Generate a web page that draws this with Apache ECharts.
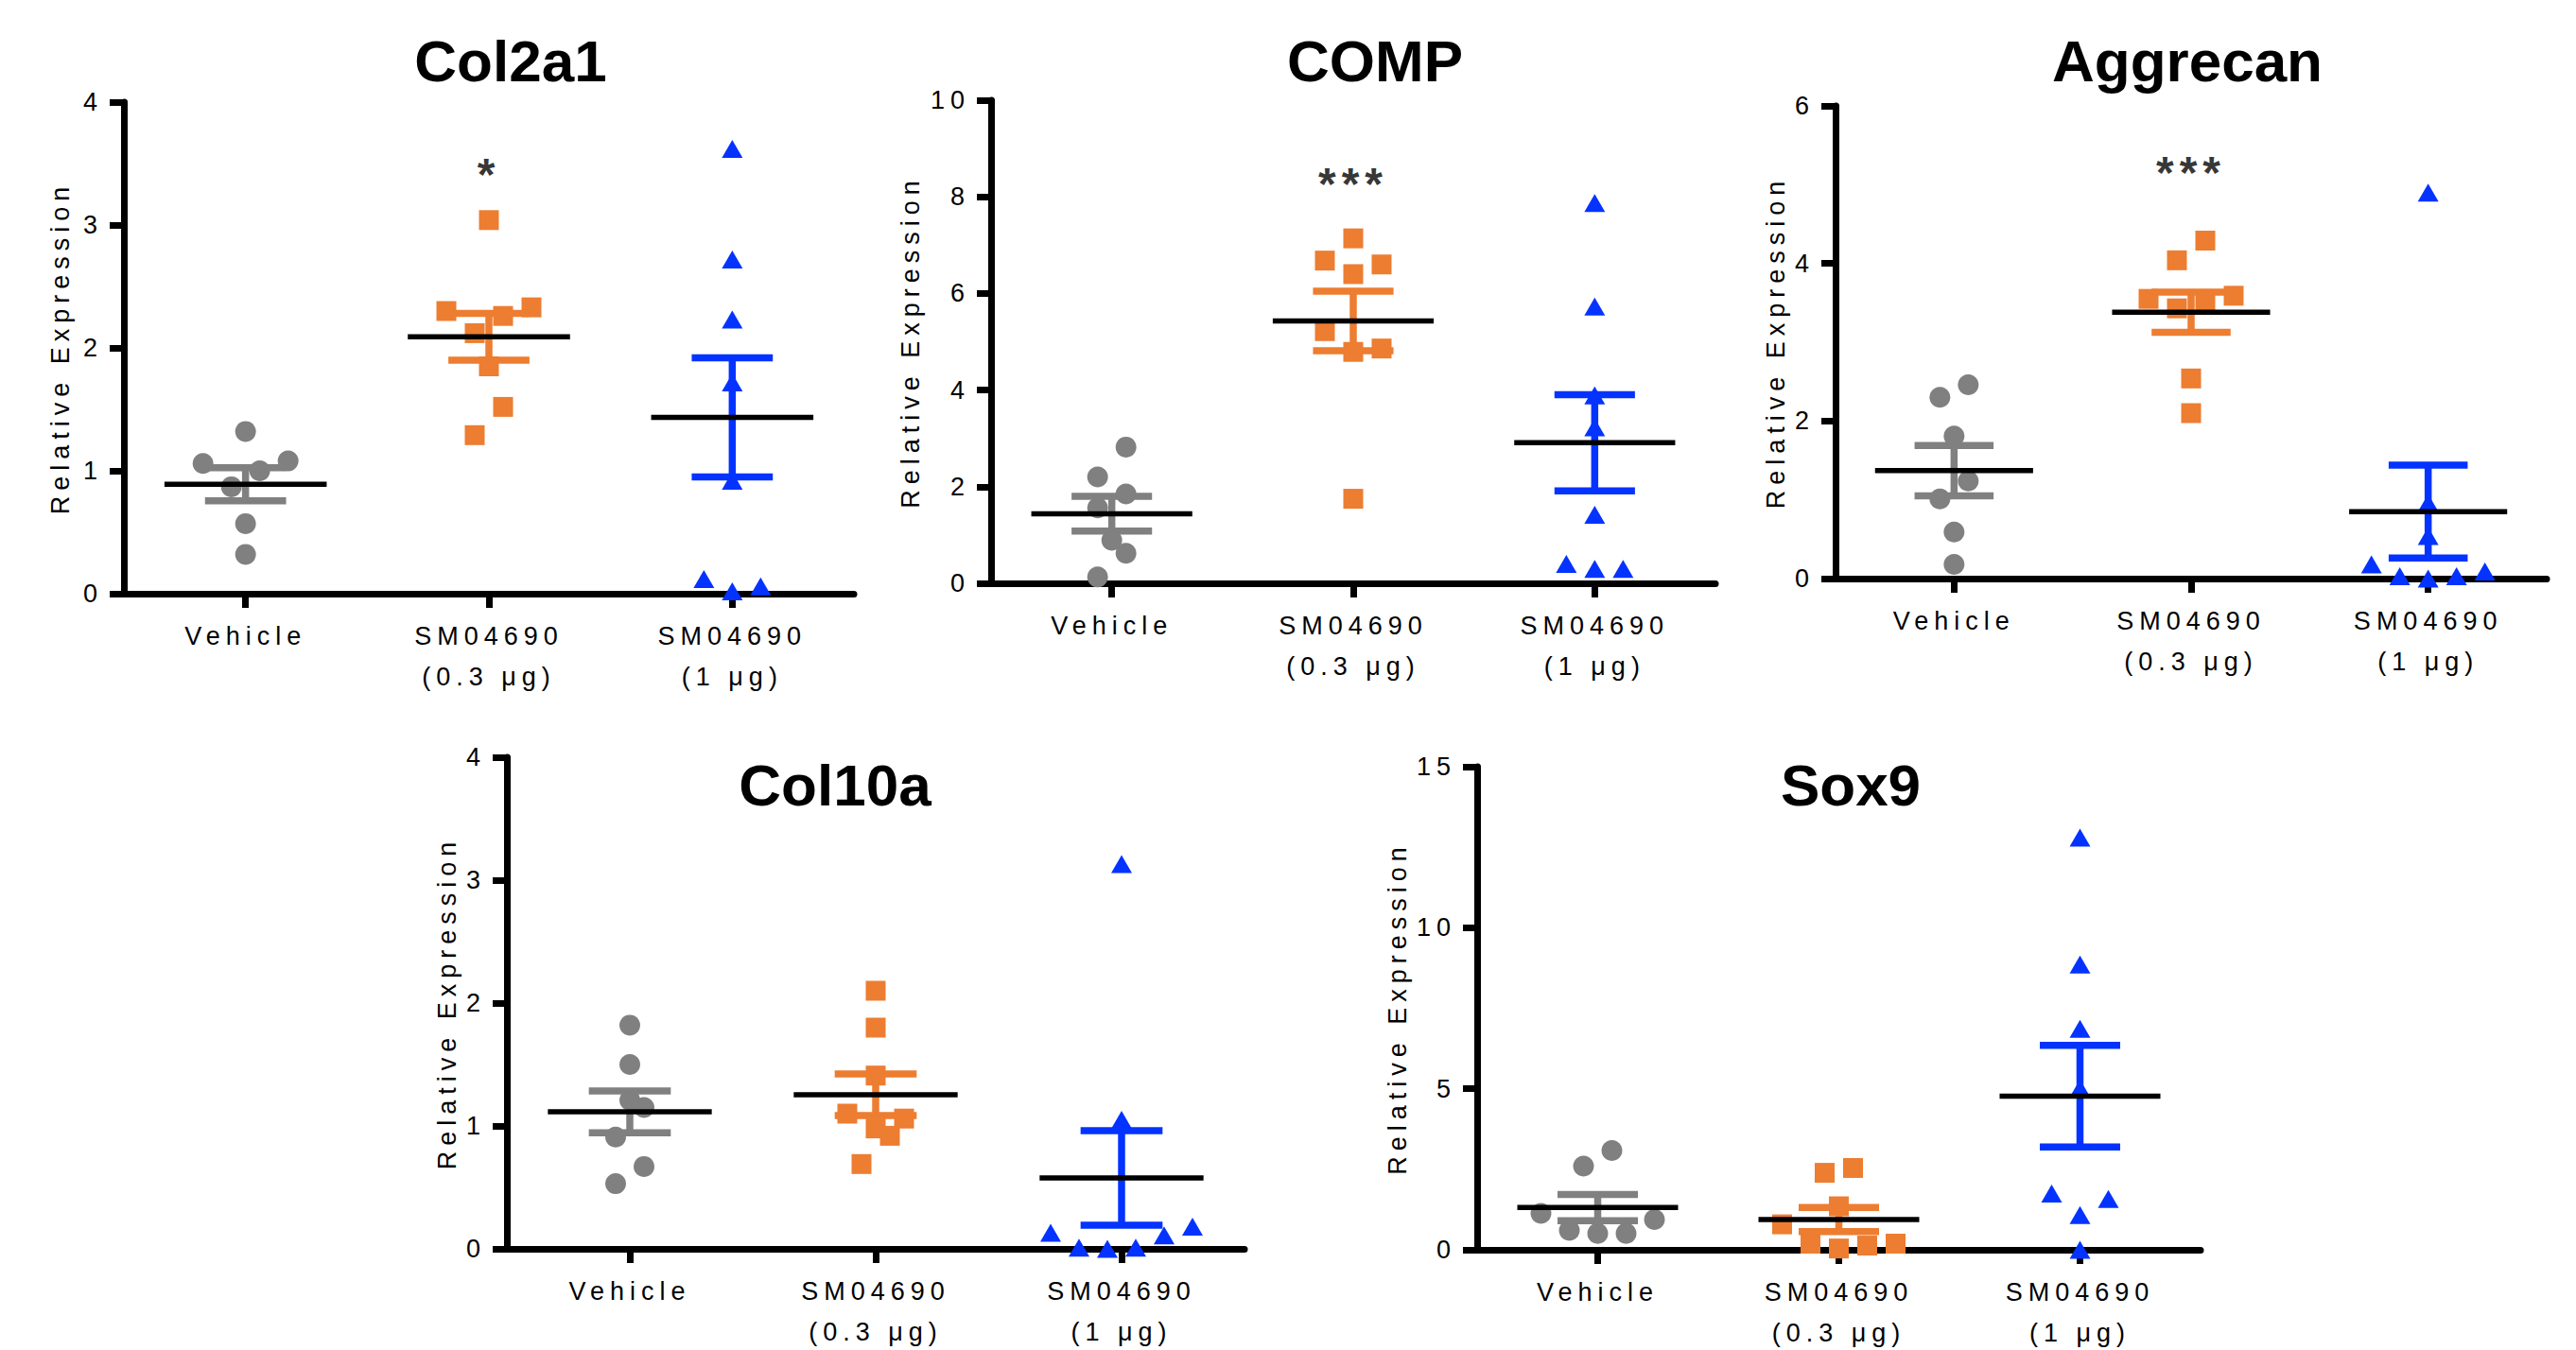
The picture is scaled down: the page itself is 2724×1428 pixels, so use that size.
<!DOCTYPE html>
<html>
<head>
<meta charset="utf-8">
<title>SM04690 relative expression</title>
<script src="https://cdn.jsdelivr.net/npm/echarts@6/dist/echarts.min.js"></script>
<style>
  html, body { margin: 0; padding: 0; background: #fff; }
  #main { width: 2724px; height: 1428px; }
  /* spaced-out axis text like the original; bold titles stay tight */
  #main text { letter-spacing: 6px; }
  #main text[style*="bold"] { letter-spacing: 0; }
</style>
</head>
<body>
<div id="main"></div>
<script>
var groups = ['Vehicle', 'SM04690\n(0.3 μg)', 'SM04690\n(1 μg)'];
var genes = ['Col2a1', 'COMP', 'Aggrecan', 'Col10a', 'Sox9'];
var yMax = [4, 10, 6, 4, 15];
var yStep = [1, 2, 2, 1, 5];

// single animals
var col2a1Veh = [1.32, 1.08, 1.06, 1.00, 0.87, 0.57, 0.32];
var col2a1Low = [3.04, 2.33, 2.30, 2.26, 2.12, 1.85, 1.52, 1.29];
var col2a1High = [3.62, 2.72, 2.23, 1.72, 0.92, 0.12, 0.06, 0.02];

var compVeh = [2.82, 2.20, 1.85, 1.56, 0.89, 0.62, 0.13];
var compLow = [7.14, 6.68, 6.60, 6.40, 5.22, 4.86, 4.79, 1.75];
var compHigh = [7.87, 5.73, 3.89, 3.23, 1.42, 0.40, 0.30, 0.30];

var aggrecanVeh = [2.46, 2.30, 1.81, 1.24, 1.01, 0.59, 0.18];
var aggrecanLow = [4.29, 4.04, 3.59, 3.55, 3.51, 3.43, 2.54, 2.10];
var aggrecanHigh = [4.90, 0.96, 0.54, 0.18, 0.09, 0.03, 0.03, 0.00];

var col10aVeh = [1.82, 1.50, 1.21, 1.15, 0.91, 0.67, 0.53];
var col10aLow = [2.10, 1.80, 1.41, 1.10, 1.06, 0.98, 0.92, 0.69];
var col10aHigh = [3.13, 1.05, 0.18, 0.13, 0.11, 0.01, 0.01, 0.00];

var sox9Veh = [3.08, 2.60, 1.13, 0.94, 0.60, 0.51, 0.51];
var sox9Low = [2.54, 2.39, 1.35, 0.79, 0.19, 0.19, 0.13, 0.04];
var sox9High = [12.8, 8.86, 6.86, 5.01, 1.75, 1.58, 1.08, 0.00];

// mean and SEM bars as drawn
var col2a1Mean = [0.89, 2.09, 1.435];
var col2a1Sem = [0.135, 0.19, 0.485];
var compMean = [1.44, 5.43, 2.91];
var compSem = [0.36, 0.615, 0.995];
var aggrecanMean = [1.37, 3.38, 0.85];
var aggrecanSem = [0.32, 0.255, 0.59];
var col10aMean = [1.115, 1.254, 0.577];
var col10aSem = [0.17, 0.17, 0.385];
var sox9Mean = [1.31, 0.94, 4.77];
var sox9Sem = [0.405, 0.375, 1.58];

// significance marks over the 0.3 μg group
var stars = ['*', '***', '***', '', ''];
var starY = [3.45, 8.37, 5.22, null, null];

var points = [
  [col2a1Veh, col2a1Low, col2a1High],
  [compVeh, compLow, compHigh],
  [aggrecanVeh, aggrecanLow, aggrecanHigh],
  [col10aVeh, col10aLow, col10aHigh],
  [sox9Veh, sox9Low, sox9High]
];
var means = [col2a1Mean, compMean, aggrecanMean, col10aMean, sox9Mean];
var sems = [col2a1Sem, compSem, aggrecanSem, col10aSem, sox9Sem];

// panel boxes in px
var layout = [
  {left: 131, top: 108, width: 772, height: 520, nameGap: 54, tx: 540, ty: 64},
  {left: 1048, top: 106, width: 766, height: 511, nameGap: 72, tx: 1454, ty: 64},
  {left: 1941, top: 112, width: 752, height: 500, nameGap: 50, tx: 2313, ty: 64},
  {left: 536, top: 801, width: 780, height: 520, nameGap: 50, tx: 883, ty: 830},
  {left: 1562, top: 811, width: 765, height: 511, nameGap: 71, tx: 1957, ty: 830}
];

var colors = ['#808080', '#ED7D31', '#0433FF'];
var shapes = ['circle', 'rect', 'triangle'];
var sizes = [22, 21, [22, 19]];
var FONT = '"Liberation Sans", Arial, Helvetica, sans-serif';
var AXIS_W = 7;
var ROW_PX = 32;   // points closer than this share a row
var SLOT_PX = 30;  // horizontal step inside a row

// prism-like scatter: rows centred on the group, lowest point in the middle
function spread(vals, pxPerUnit, catPx) {
  var idx = vals.map(function (v, i) { return i; });
  idx.sort(function (a, b) { return vals[a] - vals[b]; });
  var off = [];
  var i = 0;
  while (i < idx.length) {
    var start = vals[idx[i]] * pxPerUnit;
    var row = [];
    while (i < idx.length && vals[idx[i]] * pxPerUnit - start < ROW_PX) {
      row.push(idx[i]);
      i++;
    }
    var n = row.length;
    row.forEach(function (k, j) {
      var slot;
      if (n % 2) {
        slot = j === 0 ? 0 : (j % 2 ? 1 : -1) * Math.ceil(j / 2);
      } else {
        slot = (j % 2 ? 1 : -1) * (Math.floor(j / 2) + 0.5);
      }
      off[k] = slot * SLOT_PX / catPx;
    });
  }
  return off;
}

function meanSem(params, api) {
  var x = api.value(0), m = api.value(1), e = api.value(2);
  var c = api.coord([x, m]);
  var hi = api.coord([x, m + e]);
  var lo = api.coord([x, m - e]);
  var w = api.size([1, 0])[0];
  var col = colors[x];
  var bar = {stroke: col, lineWidth: 7.5};
  return {
    type: 'group',
    children: [
      {type: 'line', shape: {x1: c[0], y1: hi[1], x2: c[0], y2: lo[1]}, style: bar},
      {type: 'line', shape: {x1: c[0] - w / 6, y1: hi[1], x2: c[0] + w / 6, y2: hi[1]}, style: bar},
      {type: 'line', shape: {x1: c[0] - w / 6, y1: lo[1], x2: c[0] + w / 6, y2: lo[1]}, style: bar},
      {type: 'line', shape: {x1: c[0] - w / 3, y1: c[1], x2: c[0] + w / 3, y2: c[1]}, style: {stroke: '#000', lineWidth: 5.5}}
    ]
  };
}

var option = {
  animation: false,
  backgroundColor: '#fff',
  grid: [],
  xAxis: [],
  yAxis: [],
  series: [],
  graphic: []
};

genes.forEach(function (gene, p) {
  var L = layout[p];
  option.grid.push({
    left: L.left, top: L.top, width: L.width, height: L.height,
    outerBoundsMode: 'none'
  });
  option.xAxis.push({
    type: 'category',
    gridIndex: p,
    data: groups,
    axisLine: {show: true, onZero: false, lineStyle: {color: '#000', width: AXIS_W}},
    axisTick: {show: true, alignWithLabel: true, length: 15, lineStyle: {color: '#000', width: AXIS_W}},
    axisLabel: {interval: 0, margin: 23, color: '#000', fontSize: 27, lineHeight: 43, fontFamily: FONT},
    splitLine: {show: false}
  });
  option.xAxis.push({type: 'value', gridIndex: p, min: -0.5, max: 2.5, show: false});
  option.yAxis.push({
    type: 'value',
    gridIndex: p,
    min: 0,
    max: yMax[p],
    interval: yStep[p],
    name: 'Relative Expression',
    nameLocation: 'middle',
    nameRotate: 90,
    nameGap: L.nameGap,
    nameMoveOverlap: false,
    nameTextStyle: {color: '#000', fontSize: 27, fontFamily: FONT},
    axisLine: {show: true, onZero: false, lineStyle: {color: '#000', width: AXIS_W}},
    axisTick: {show: true, inside: false, length: 15, lineStyle: {color: '#000', width: AXIS_W}},
    axisLabel: {margin: 22, color: '#000', fontSize: 27, fontFamily: FONT},
    splitLine: {show: false}
  });

  var pxPerUnit = L.height / yMax[p];
  var catPx = L.width / 3;
  points[p].forEach(function (vals, k) {
    var off = spread(vals, pxPerUnit, catPx);
    option.series.push({
      type: 'scatter',
      xAxisIndex: 2 * p + 1,
      yAxisIndex: p,
      symbol: shapes[k],
      symbolSize: sizes[k],
      itemStyle: {color: colors[k], opacity: 1},
      silent: true,
      z: 2,
      data: vals.map(function (v, i) { return [k + off[i], v]; })
    });
  });

  option.series.push({
    type: 'custom',
    xAxisIndex: 2 * p + 1,
    yAxisIndex: p,
    renderItem: meanSem,
    silent: true,
    z: 3,
    data: means[p].map(function (m, k) { return [k, m, sems[p][k]]; })
  });

  if (stars[p]) {
    option.series.push({
      type: 'scatter',
      xAxisIndex: 2 * p + 1,
      yAxisIndex: p,
      symbolSize: 1,
      itemStyle: {color: 'rgba(0,0,0,0)'},
      silent: true,
      z: 4,
      label: {
        show: true, position: 'inside', formatter: stars[p], offset: [0, 5],
        color: '#000', fontSize: 48, fontWeight: 600, fontFamily: FONT
      },
      data: [[1, starY[p]]]
    });
  }

  option.graphic.push({
    type: 'text',
    x: L.tx,
    y: L.ty,
    style: {
      text: gene,
      fill: '#000',
      fontSize: 62,
      fontWeight: 'bold',
      fontFamily: FONT,
      align: 'center',
      verticalAlign: 'middle',
      textAlign: 'center',
      textVerticalAlign: 'middle'
    }
  });
});

var chart = echarts.init(document.getElementById('main'), null, {renderer: 'svg'});
chart.setOption(option);
window.addEventListener('resize', chart.resize);
</script>
</body>
</html>
